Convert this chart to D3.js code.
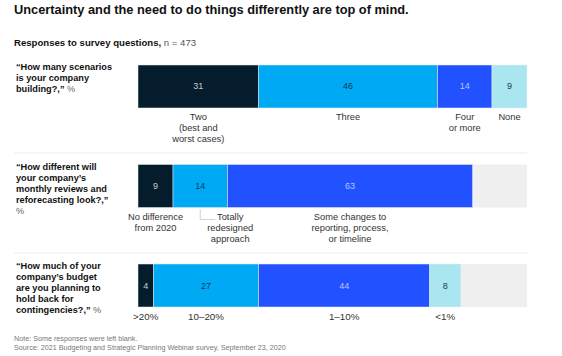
<!DOCTYPE html>
<html>
<head>
<meta charset="utf-8">
<script src="https://cdn.jsdelivr.net/npm/d3@7"></script>
<style>
  html, body { margin: 0; padding: 0; background: #fff; }
  svg { display: block; font-family: "Liberation Sans", Arial, sans-serif; }
</style>
</head>
<body>
<svg id="chart" width="562" height="356"></svg>
<script>
// ---- Data ----
const questions = ["q1", "q2", "q3"];
const questionLines = [
  ["\u201CHow many scenarios", "is your company", "building?,\u201D|%"],
  ["\u201CHow different will", "your company\u2019s", "monthly reviews and", "reforecasting look?,\u201D", "|%"],
  ["\u201CHow much of your", "company\u2019s budget", "are you planning to", "hold back for", "contingencies?,\u201D|%"]
];
const q1Values = [31, 46, 14, 9];
const q2Values = [9, 14, 63];
const q3Values = [4, 27, 44, 8];
const q1Labels = [["Two", "(best and", "worst cases)"], ["Three"], ["Four", "or more"], ["None"]];
const q2Labels = [["No difference", "from 2020"], ["Totally", "redesigned", "approach"], ["Some changes to", "reporting, process,", "or timeline"]];
const q3Labels = [[">20%"], ["10\u201320%"], ["1\u201310%"], ["<1%"]];
const seriesValues = [q1Values, q2Values, q3Values];
const seriesLabels = [q1Labels, q2Labels, q3Labels];
const q1Colors = ["#051c2c", "#00a9f4", "#2251ff", "#aae6f0"];
const q2Colors = ["#051c2c", "#00a9f4", "#2251ff"];
const q3Colors = ["#051c2c", "#00a9f4", "#2251ff", "#aae6f0"];
const seriesColors = [q1Colors, q2Colors, q3Colors];
const textColorFor = { "#051c2c": "#c8ccd0", "#00a9f4": "#0b3a5c", "#2251ff": "#b8c6ff", "#aae6f0": "#1f3a4a" };

// ---- Scales ----
const svg = d3.select("#chart");
const x = d3.scaleLinear().domain([0, 100]).range([138, 527]);
const y = d3.scaleBand().domain(questions).range([65, 307]).paddingInner(0.568).paddingOuter(0);

// ---- Title ----
svg.append("text").attr("x", 14).attr("y", 14)
  .attr("font-size", 12.8).attr("font-weight", 700).attr("fill", "#111")
  .text("Uncertainty and the need to do things differently are top of mind.");

const sub = svg.append("text").attr("x", 14).attr("y", 46).attr("font-size", 9.6).attr("fill", "#111");
sub.append("tspan").attr("font-weight", 700).text("Responses to survey questions, ");
sub.append("tspan").attr("fill", "#555").text("n = 473");

// ---- Separators ----
[153, 253].forEach(yy => {
  svg.append("line").attr("x1", 14).attr("x2", 527).attr("y1", yy).attr("y2", yy)
    .attr("stroke", "#ececec").attr("stroke-width", 1);
});

// ---- Rows ----
questions.forEach((q, i) => {
  const y0 = y(q), bh = y.bandwidth();
  // question text
  const qt = svg.append("text").attr("font-size", 9.2).attr("fill", "#111");
  questionLines[i].forEach((ln, j) => {
    const parts = ln.split("|");
    const baseY = y0 + 5 + j * 11;
    if (parts[0]) {
      qt.append("tspan").attr("x", 16).attr("y", baseY).attr("font-weight", 700).text(parts[0]);
      if (parts.length > 1) {
        qt.append("tspan").attr("font-weight", 400).attr("fill", "#666").text(" " + parts[1]);
      }
    } else {
      qt.append("tspan").attr("x", 16).attr("y", baseY).attr("font-weight", 400).attr("fill", "#666").text(parts[1]);
    }
  });

  // background
  svg.append("rect").attr("x", x(0)).attr("y", y0).attr("width", x(100) - x(0)).attr("height", bh)
    .attr("fill", "#efefef");

  const vals = seriesValues[i];
  let cum = 0;
  const segs = vals.map((v, k) => { const s = { v, k, a: cum, b: cum + v }; cum += v; return s; });

  svg.selectAll(null).data(segs).enter().append("rect")
    .attr("x", d => x(d.a)).attr("y", y0)
    .attr("width", d => x(d.b) - x(d.a)).attr("height", bh)
    .attr("fill", d => seriesColors[i][d.k])
    .attr("stroke", "#e8eef2").attr("stroke-width", 0.5);

  svg.selectAll(null).data(segs).enter().append("text")
    .attr("x", d => (x(d.a) + x(d.b)) / 2).attr("y", y0 + bh / 2 + 3)
    .attr("text-anchor", "middle").attr("font-size", 9)
    .attr("fill", d => textColorFor[seriesColors[i][d.k]])
    .text(d => d.v);

  // category labels
  segs.forEach(d => {
    let cx = (x(d.a) + x(d.b)) / 2;
    const lines = seriesLabels[i][d.k];
    const fs = (i === 2) ? 9.8 : 9.3;
    if (i === 1 && d.k === 1) {
      const lx = cx;
      cx = cx + 30;
      svg.append("path")
        .attr("d", `M${lx},${y0 + bh + 2}V${y0 + bh + 12}H${lx + 15}`)
        .attr("fill", "none").attr("stroke", "#bbb").attr("stroke-width", 0.7);
    }
    const t = svg.append("text").attr("text-anchor", "middle").attr("font-size", fs).attr("fill", "#333");
    lines.forEach((ln, j) => {
      t.append("tspan").attr("x", cx).attr("y", y0 + bh + 12.5 + j * 11).text(ln);
    });
  });
});

// ---- Footer ----
svg.append("text").attr("x", 14).attr("y", 341).attr("font-size", 7.2).attr("fill", "#777")
  .text("Note: Some responses were left blank.");
svg.append("text").attr("x", 14).attr("y", 350).attr("font-size", 7.2).attr("fill", "#777")
  .text("Source: 2021 Budgeting and Strategic Planning Webinar survey, September 23, 2020");
</script>
</body>
</html>
